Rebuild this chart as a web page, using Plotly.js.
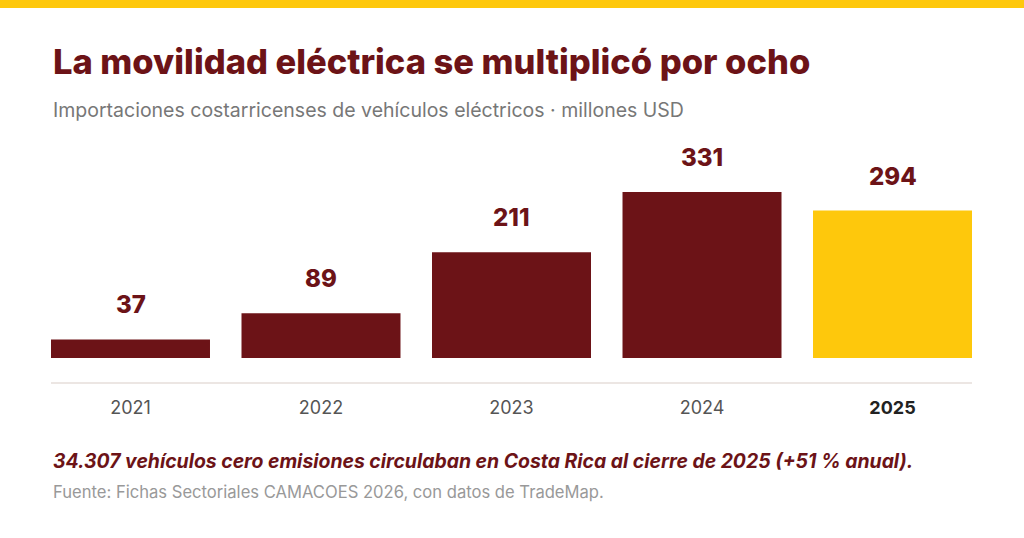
<!DOCTYPE html>
<html>
<head>
<meta charset="utf-8">
<script src="https://cdn.plot.ly/plotly-3.0.1.min.js"></script>
<style>
  html, body { margin: 0; padding: 0; background: #fff; }
  #chart { width: 1024px; height: 538px; }
</style>
</head>
<body>
<div id="chart"></div>
<script>
// datos
var years = ["2021", "2022", "2023", "2024", "2025"];
var values = [37, 89, 211, 331, 294];
var tickLabels = ["2021", "2022", "2023", "2024", "<b><span style='color:#222'>2025</span></b>"];

var RED = "#6c1317";
var YELLOW = "#fec80c";

var barColors = years.map((y, i) => i === years.length - 1 ? YELLOW : RED);

var trace = {
    x: years,
    y: values,
    type: "bar",
    marker: { color: barColors, line: { width: 0 } },
    hoverinfo: "none"
};

// etiquetas de valor sobre cada barra
var valueLabels = years.map((y, i) => ({
    x: i,
    y: values[i],
    xref: "x",
    yref: "y",
    text: String(values[i]),
    showarrow: false,
    yanchor: "bottom",
    yshift: 18,
    font: { family: "Inter, sans-serif", size: 24, color: RED, weight: 800 }
}));

var textNotes = [
    {
        text: "La movilidad eléctrica se multiplicó por ocho",
        x: 0, y: 1.326, xanchor: "left", yanchor: "middle",
        font: { family: "Inter, sans-serif", size: 34.5, color: RED, weight: 800 }
    },
    {
        text: "Importaciones costarricenses de vehículos eléctricos · millones USD",
        x: 0, y: 1.124, xanchor: "left", yanchor: "middle",
        font: { family: "Inter, sans-serif", size: 19.5, color: "#777" }
    },
    {
        text: "<i>34.307 vehículos cero emisiones circulaban en Costa Rica al cierre de 2025 (+51 % anual).</i>",
        x: 0, y: -0.326, xanchor: "left", yanchor: "middle",
        font: { family: "Inter, sans-serif", size: 19.4, color: RED, weight: 700 }
    },
    {
        text: "Fuente: Fichas Sectoriales CAMACOES 2026, con datos de TradeMap.",
        x: 0, y: -0.455, xanchor: "left", yanchor: "middle",
        font: { family: "Inter, sans-serif", size: 16.6, color: "#999" }
    }
].map(a => Object.assign({ xref: "paper", yref: "paper", showarrow: false }, a));

var layout = {
    width: 1024,
    height: 538,
    margin: { l: 51, r: 52, t: 140, b: 156 },
    paper_bgcolor: "#fff",
    plot_bgcolor: "#fff",
    showlegend: false,
    bargap: 0.1654,
    xaxis: {
        type: "category",
        range: [-0.4173, 4.4173],
        tickvals: years,
        ticktext: tickLabels,
        showgrid: false,
        zeroline: false,
        showline: true,
        linecolor: "#ece6e3",
        linewidth: 2,
        ticks: "outside",
        ticklen: 8,
        tickcolor: "rgba(0,0,0,0)",
        tickfont: { family: "Inter, sans-serif", size: 18, color: "#555" },
        fixedrange: true
    },
    yaxis: {
        range: [-47.9, 434.7],
        showticklabels: false,
        showline: false,
        ticks: "",
        showgrid: false,
        zeroline: false,
        fixedrange: true
    },
    shapes: [
        {
            type: "rect", xref: "paper", yref: "paper",
            x0: -0.1, x1: 1.1, y0: 1.5455, y1: 1.62,
            fillcolor: YELLOW, line: { width: 0 }, layer: "above"
        }
    ],
    annotations: valueLabels.concat(textNotes)
};

Plotly.newPlot("chart", [trace], layout, { displayModeBar: false, staticPlot: true });
</script>
</body>
</html>
